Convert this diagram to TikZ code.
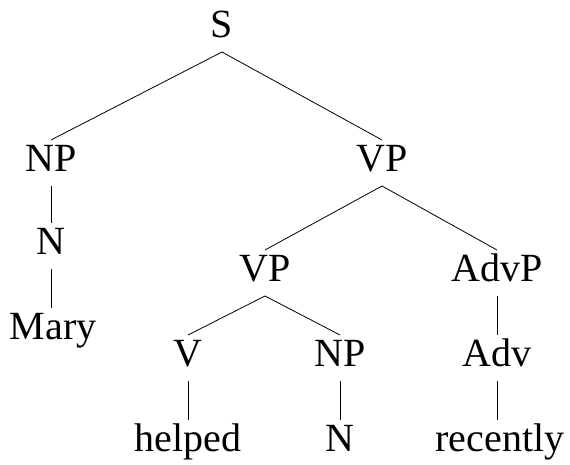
\documentclass[tikz,border=0pt]{standalone}
\usepackage{fontspec}
\setmainfont{Liberation Serif}
\tikzset{cat/.style={anchor=base, inner sep=0pt, outer sep=2pt,
    text height=30pt, text depth=12pt, font=\fontsize{40}{44}\selectfont}}
\tikzset{branch/.style={line width=0.8pt}}

\begin{document}
\begin{tikzpicture}[x=1pt,y=1pt]
            \useasboundingbox (0,0) rectangle (570,465);
            % categories and words
            \node[cat] (s) at (222,427) {S};
            \node[cat] (np) at (51,293) {NP};
            \node[cat] (vp) at (382,293) {VP};
            \node[cat] (n) at (51,210) {N};
            \node[cat] (mary) at (53,125) {Mary};
            \node[cat] (vpl) at (265,183) {VP};
            \node[cat] (advp) at (497,183) {AdvP};
            \node[cat] (v) at (188,98) {V};
            \node[cat] (npo) at (340,98) {NP};
            \node[cat] (adv) at (497,98) {Adv};
            \node[cat] (helped) at (188,13) {helped};
            \node[cat] (no) at (340,13) {N};
            \node[cat] (recently) at (500,13) {recently};
            % branches
            \draw[branch] (s.south) -- (np.north);
            \draw[branch] (s.south) -- (vp.north);
            \draw[branch] (np.south) -- (n.north);
            \draw[branch] (n.south) -- (n.south |- mary.north);
            \draw[branch] (vp.south) -- (vpl.north);
            \draw[branch] (vp.south) -- (advp.north);
            \draw[branch] (vpl.south) -- (v.north);
            \draw[branch] (vpl.south) -- (npo.north);
            \draw[branch] (advp.south) -- (adv.north);
            \draw[branch] (v.south) -- (helped.north);
            \draw[branch] (npo.south) -- (no.north);
            \draw[branch] (adv.south) -- (adv.south |- recently.north);
        \end{tikzpicture}
\end{document}
